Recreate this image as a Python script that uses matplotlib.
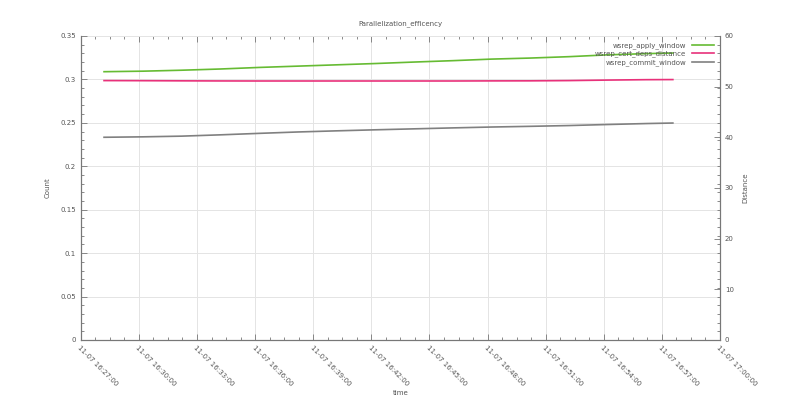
import matplotlib
matplotlib.use("Agg")
import matplotlib.pyplot as plt
import matplotlib.dates as mdates
from matplotlib.ticker import MultipleLocator, FuncFormatter
import pandas as pd

times = ["2023-11-07 16:28:12", "2023-11-07 16:30:12", "2023-11-07 16:32:12", "2023-11-07 16:34:12",
         "2023-11-07 16:36:12", "2023-11-07 16:38:12", "2023-11-07 16:40:12", "2023-11-07 16:42:12",
         "2023-11-07 16:44:12", "2023-11-07 16:46:12", "2023-11-07 16:48:12", "2023-11-07 16:50:12",
         "2023-11-07 16:52:12", "2023-11-07 16:54:12", "2023-11-07 16:56:12", "2023-11-07 16:57:34"]
apply_window = [0.3089, 0.3095, 0.3106, 0.3120, 0.3138, 0.3153, 0.3168, 0.3183,
                0.3200, 0.3216, 0.3234, 0.3246, 0.3262, 0.3283, 0.3297, 0.3304]
commit_window = [0.2334, 0.2339, 0.2347, 0.2362, 0.2379, 0.2395, 0.2408, 0.2420,
                 0.2431, 0.2442, 0.2452, 0.2460, 0.2469, 0.2481, 0.2492, 0.2498]
cert_deps_distance = [51.20, 51.18, 51.15, 51.13, 51.12, 51.12, 51.12, 51.12,
                      51.12, 51.12, 51.14, 51.15, 51.20, 51.30, 51.38, 51.40]

x_start = "2023-11-07 16:27:00"
x_end = "2023-11-07 17:00:00"

t = pd.to_datetime(times)
txt = "#555555"
fs = 5

fig = plt.figure(figsize=(8, 4), dpi=100)
ax = fig.add_axes([0.101, 0.15, 0.799, 0.76])
ax2 = ax.twinx()

l1, = ax.plot(t, apply_window, color="#66bb33", lw=1.2, label="wsrep_apply_window")
l2, = ax2.plot(t, cert_deps_distance, color="#e8317a", lw=1.2, label="wsrep_cert_deps_distance")
l3, = ax.plot(t, commit_window, color="#808080", lw=1.2, label="wsrep_commit_window")

ax.set_xlim(pd.Timestamp(x_start), pd.Timestamp(x_end))
ax.set_ylim(0, 0.35)
ax2.set_ylim(0, 60)

ax.xaxis.set_major_locator(mdates.MinuteLocator(byminute=range(0, 60, 3)))
ax.xaxis.set_major_formatter(mdates.DateFormatter("%m-%d %H:%M:%S"))
minor_ticks = pd.date_range(x_start, x_end, freq="45s")
ax.set_xticks(minor_ticks, minor=True)

ax.yaxis.set_major_locator(MultipleLocator(0.05))
ax.yaxis.set_minor_locator(MultipleLocator(0.01))
ax.yaxis.set_major_formatter(FuncFormatter(lambda v, p: "%g" % round(v, 4)))
ax2.yaxis.set_major_locator(MultipleLocator(10))
ax2.yaxis.set_minor_locator(MultipleLocator(60 / 35))

for a in (ax, ax2):
    for s in a.spines.values():
        s.set_color("#777777")
        s.set_linewidth(0.8)
    a.spines["top"].set_visible(False)

ax.tick_params(axis="both", which="both", direction="in", colors="#777777",
               labelcolor=txt, labelsize=fs, top=True)
ax.tick_params(which="major", length=4, width=0.6)
ax.tick_params(which="minor", length=2, width=0.6)
ax.tick_params(axis="x", which="major", pad=3)
ax2.tick_params(axis="y", which="both", direction="in", colors="#777777",
                labelcolor=txt, labelsize=fs)
ax2.tick_params(which="major", length=4, width=0.6)
ax2.tick_params(which="minor", length=2, width=0.6)

for lab in ax.get_xticklabels():
    lab.set_rotation(-45)
    lab.set_ha("left")
    lab.set_va("top")
    lab.set_rotation_mode("anchor")

ax.grid(True, which="major", color="#e4e4e4", lw=0.7)
ax.set_axisbelow(True)

ax.set_title("Parallelization_efficency", fontsize=fs, color=txt, pad=8)
ax.set_ylabel("Count", fontsize=fs, color=txt, labelpad=7)
ax2.set_ylabel("Distance", fontsize=fs, color=txt, labelpad=6)
ax.set_xlabel("time", fontsize=fs, color=txt, labelpad=2)

leg = ax2.legend(handles=[l1, l2, l3], loc="upper right", frameon=False, markerfirst=False,
                 fontsize=fs, labelcolor=txt, handlelength=3.2, borderaxespad=0.5,
                 labelspacing=0.25, handletextpad=0.8)
for tx in leg.get_texts():
    tx.set_ha("right")
leg._legend_box.align = "right"

fig.savefig("out.png", dpi=100)
